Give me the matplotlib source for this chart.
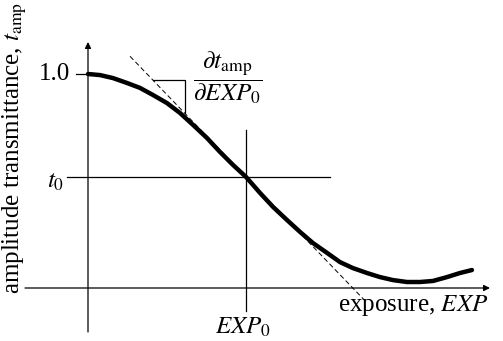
import matplotlib
matplotlib.use("Agg")
import matplotlib.pyplot as plt
import numpy as np

plt.rcParams['font.family'] = ['Liberation Serif', 'DejaVu Serif']
plt.rcParams['mathtext.fontset'] = 'stix'

# Data (exposure in units of EXP0, amplitude transmittance)
exposure = [0.0, 0.076, 0.158, 0.247, 0.329, 0.411, 0.500, 0.582, 0.665, 0.753,
            0.835, 0.918, 1.0, 1.089, 1.171, 1.259, 1.342, 1.424, 1.513, 1.595,
            1.677, 1.766, 1.848, 1.930, 2.019, 2.101, 2.184, 2.272, 2.354, 2.430]
transmittance = [1.0, 0.995, 0.981, 0.958, 0.935, 0.902, 0.864, 0.818, 0.762, 0.701,
                 0.636, 0.575, 0.519, 0.444, 0.379, 0.318, 0.262, 0.210, 0.164, 0.121,
                 0.093, 0.070, 0.051, 0.037, 0.028, 0.028, 0.033, 0.051, 0.070, 0.084]
EXP0 = 1.0
t0 = 0.519
slope = -0.768
tangent_x = [0.266, 1.766]
triangle_x = [0.411, 0.614]

fig = plt.figure(figsize=(5.03, 3.41), dpi=100)
ax = fig.add_axes([0, 0, 1, 1])
ax.set_xlim(-88/158, (503-88)/158)
ax.set_ylim((288-341)/214, 288/214)
ax.axis('off')

# axes
ax.annotate('', xy=(0, (288-42)/214), xytext=(0, (288-332)/214),
            arrowprops=dict(arrowstyle='-|>', lw=0.9, color='black', mutation_scale=9,
                            shrinkA=0, shrinkB=0))
ax.annotate('', xy=((490-88)/158, 0), xytext=((25-88)/158, 0),
            arrowprops=dict(arrowstyle='-|>', lw=0.9, color='black', mutation_scale=9,
                            shrinkA=0, shrinkB=0))
# tick at 1.0
ax.plot([(76-88)/158, 0], [1.0, 1.0], color='black', lw=0.9)
# t0 and EXP0 lines
ax.plot([(67-88)/158, (330-88)/158], [t0, t0], color='black', lw=0.9)
ax.plot([EXP0, EXP0], [(288-130)/214, (288-311)/214], color='black', lw=0.9)

# curve
ax.plot(exposure, transmittance, color='black', lw=3.2, solid_capstyle='round',
        solid_joinstyle='round', zorder=3)

# tangent
tx = np.array(tangent_x)
ax.plot(tx, t0 + slope*(tx-EXP0), color='black', lw=0.7, dashes=(5, 3), zorder=2)

# triangle
ty = t0 + slope*(np.array(triangle_x)-EXP0)
ax.plot([triangle_x[0], triangle_x[1], triangle_x[1]], [ty[0], ty[0], ty[1]],
        color='black', lw=0.9)

# labels
fs = 18
ax.text((70-88)/158, 1.0, '1.0', ha='right', va='center', fontsize=fs)
ax.text((64-88)/158, (288-182)/214, r'$t_0$', ha='right', va='center', fontsize=fs)
ax.text(EXP0 - 0.02, (288-327)/214, r'$EXP_0$', ha='center', va='center', fontsize=fs)
ax.text((338-88)/158, (288-305)/214, r'exposure, $EXP$', ha='left', va='center', fontsize=fs)
ax.text((193-88)/158, (288-78)/214, r'$\dfrac{\partial t_{\mathrm{amp}}}{\partial EXP_0}$',
        ha='left', va='center', fontsize=fs)
ax.text((15-88)/158, (288-148)/214, r'amplitude transmittance, $t_{\mathrm{amp}}$',
        ha='center', va='center', rotation=90, fontsize=fs)

fig.savefig('out.png', dpi=100)
